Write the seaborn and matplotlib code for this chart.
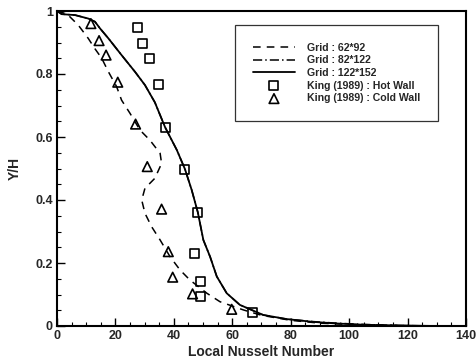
import numpy as np
import pandas as pd
import matplotlib
matplotlib.use("Agg")
import matplotlib.pyplot as plt
from matplotlib.ticker import MultipleLocator
import seaborn as sns

# Grid 62*92 profile (Nu, Y/H)
nu_62 = [0.0, 3.5, 7.3, 10.7, 13.0, 15.3, 17.6, 20.4, 22.1, 25.0, 28.4, 31.8, 35.3, 35.8,
         33.5, 30.1, 29.0, 30.1, 32.4, 35.3, 38.7, 42.1, 45.5, 51.3, 55.8, 63.8,
         70.0, 80.0, 90.0, 100.0, 110.0, 120.0, 130.0]
yh_62 = [1.0, 0.99, 0.955, 0.913, 0.88, 0.85, 0.807, 0.76, 0.717, 0.675, 0.622, 0.59, 0.548, 0.516,
         0.469, 0.437, 0.40, 0.358, 0.315, 0.273, 0.22, 0.178, 0.146, 0.104, 0.077, 0.051,
         0.034, 0.018, 0.009, 0.005, 0.003, 0.001, 0.0]

# Grid 82*122 profile
nu_82 = [0.0, 1.6, 6.2, 10.7, 13.0, 14.7, 17.6, 22.1, 26.7, 30.1, 33.5, 37.0, 41.0, 43.8,
         46.1, 48.2, 50.1, 52.4, 54.7, 58.1, 62.6, 70.6, 78.6, 87.7, 95.7, 105.0, 115.0, 130.0]
yh_82 = [1.0, 0.99, 0.987, 0.976, 0.966, 0.945, 0.913, 0.86, 0.807, 0.765, 0.71, 0.631, 0.559,
         0.498, 0.432, 0.361, 0.273, 0.22, 0.157, 0.104, 0.067, 0.035, 0.022, 0.014, 0.009,
         0.005, 0.002, 0.0]

# Grid 122*152 profile
nu_122 = [0.0, 1.6, 6.2, 10.7, 13.0, 14.7, 17.6, 22.1, 26.7, 30.1, 33.5, 37.0, 41.0, 43.8,
          46.1, 48.2, 50.1, 52.4, 54.7, 58.1, 62.6, 70.6, 78.6, 87.7, 95.7, 105.0, 115.0, 130.0]
yh_122 = [1.0, 0.99, 0.987, 0.976, 0.966, 0.945, 0.913, 0.86, 0.807, 0.765, 0.71, 0.631, 0.559,
          0.498, 0.432, 0.361, 0.273, 0.22, 0.157, 0.104, 0.067, 0.035, 0.022, 0.013, 0.008,
          0.004, 0.002, 0.0]

# King (1989) measurements
hot_nu = [27.5, 29.2, 31.5, 34.9, 37.0, 43.8, 48.2, 47.0, 49.2, 49.0, 66.9]
hot_yh = [0.947, 0.898, 0.849, 0.766, 0.631, 0.498, 0.361, 0.229, 0.141, 0.093, 0.043]
cold_nu = [11.6, 14.4, 16.8, 20.8, 26.9, 30.9, 35.8, 38.1, 39.6, 46.4, 59.8]
cold_yh = [0.96, 0.906, 0.86, 0.774, 0.641, 0.506, 0.371, 0.236, 0.155, 0.102, 0.053]

sns.set_style("white")
plt.rcParams["font.family"] = ["Liberation Sans", "DejaVu Sans"]

fig = plt.figure(figsize=(4.77, 3.64), dpi=100)
ax = fig.add_axes([57 / 477, 1 - 326 / 364, 409 / 477, 315 / 364])

kw = dict(sort=False, estimator=None, color="black", ax=ax)
sns.lineplot(x=nu_62, y=yh_62, linestyle=(0, (5, 4)), linewidth=1.1,
             label="Grid : 62*92", **kw)
sns.lineplot(x=nu_82, y=yh_82, linestyle=(0, (6, 2, 1, 2)), linewidth=1.1,
             label="Grid : 82*122", **kw)
sns.lineplot(x=nu_122, y=yh_122, linestyle="-", linewidth=1.3,
             label="Grid : 122*152", **kw)
sns.scatterplot(x=hot_nu, y=hot_yh, marker="s", s=42, facecolor="none",
                edgecolor="black", linewidth=1.2, label="King (1989) : Hot Wall", ax=ax)
sns.scatterplot(x=cold_nu, y=cold_yh, marker="^", s=48, facecolor="none",
                edgecolor="black", linewidth=1.2, label="King (1989) : Cold Wall", ax=ax)

ax.set_xlim(0, 140)
ax.set_ylim(0, 1)
ax.xaxis.set_major_locator(MultipleLocator(20))
ax.xaxis.set_minor_locator(MultipleLocator(5))
ax.yaxis.set_major_locator(MultipleLocator(0.2))
ax.yaxis.set_minor_locator(MultipleLocator(0.05))
ax.set_yticks([0, 0.2, 0.4, 0.6, 0.8, 1.0])
ax.set_yticklabels(["0", "0.2", "0.4", "0.6", "0.8", "1"])
ax.tick_params(which="major", direction="in", length=6, width=1.0, color="black",
               labelsize=9, pad=3)
ax.tick_params(which="minor", direction="in", length=3, width=0.8, color="black")
ax.tick_params(axis="both", which="both", bottom=True, left=True, top=False, right=False)
for lbl in ax.get_xticklabels() + ax.get_yticklabels():
    lbl.set_fontweight("bold")
for sp in ax.spines.values():
    sp.set_color("black")
    sp.set_linewidth(1.5)

ax.set_xlabel("Local Nusselt Number", fontsize=10, fontweight="bold", labelpad=2)
ax.set_ylabel("Y/H", fontsize=10, fontweight="bold", labelpad=10)

leg = ax.legend(loc="upper left", bbox_to_anchor=(0.435, 0.956), fontsize=7.6,
                frameon=True, fancybox=False, handlelength=4.0, borderpad=1.7,
                labelspacing=0.25, handletextpad=1.1, borderaxespad=0.0)
leg.get_frame().set_edgecolor("black")
leg.get_frame().set_linewidth(0.9)
for t in leg.get_texts():
    t.set_fontweight("bold")

fig.savefig("out.png", dpi=100)
